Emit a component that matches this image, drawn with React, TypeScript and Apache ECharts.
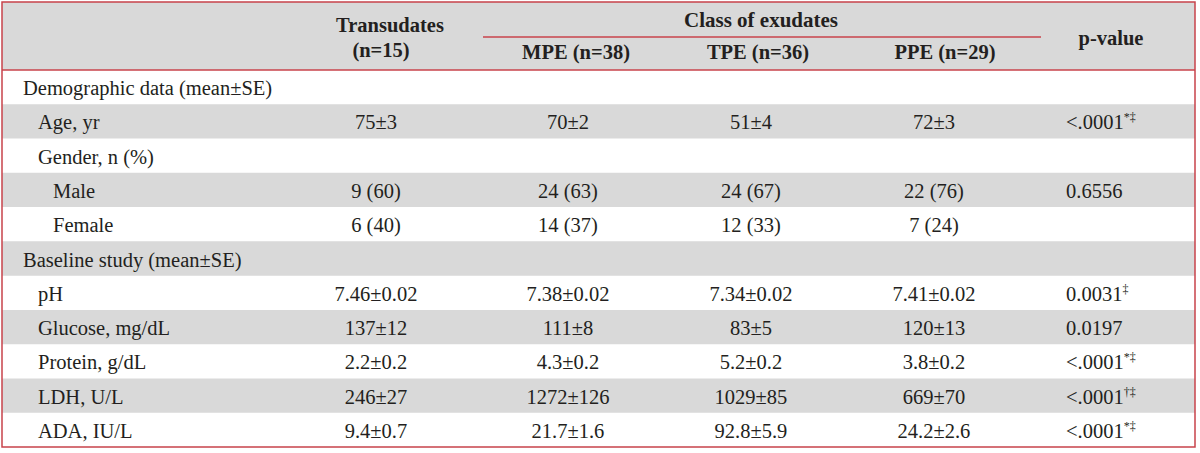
import React, { useEffect, useRef } from "react";
import * as echarts from "echarts";

const rowLabels = [
  "Demographic data (mean±SE)",
  "Age, yr",
  "Gender, n (%)",
  "Male",
  "Female",
  "Baseline study (mean±SE)",
  "pH",
  "Glucose, mg/dL",
  "Protein, g/dL",
  "LDH, U/L",
  "ADA, IU/L",
];
const rowIndent = [0, 1, 1, 2, 2, 0, 1, 1, 1, 1, 1];

const groupHeader = "Class of exudates";
const transHeader = ["Transudates", "(n=15)"];
const exudateHeaders = ["MPE (n=38)", "TPE (n=36)", "PPE (n=29)"];
const pHeader = "p-value";

const transudates = ["", "75±3", "", "9 (60)", "6 (40)", "", "7.46±0.02", "137±12", "2.2±0.2", "246±27", "9.4±0.7"];
const mpe = ["", "70±2", "", "24 (63)", "14 (37)", "", "7.38±0.02", "111±8", "4.3±0.2", "1272±126", "21.7±1.6"];
const tpe = ["", "51±4", "", "24 (67)", "12 (33)", "", "7.34±0.02", "83±5", "5.2±0.2", "1029±85", "92.8±5.9"];
const ppe = ["", "72±3", "", "22 (76)", "7 (24)", "", "7.41±0.02", "120±13", "3.8±0.2", "669±70", "24.2±2.6"];
const pValues = ["", "<.0001", "", "0.6556", "", "", "0.0031", "0.0197", "<.0001", "<.0001", "<.0001"];
const pMarks = ["", "*‡", "", "", "", "", "‡", "", "*‡", "†‡", "*‡"];

const FONT = "'Liberation Serif', 'DejaVu Serif', serif";
const TEXT = "#231f20";
const GRAY = "#d9d9d9";
const RED = "#c8434b";

export default function App() {
  const ref = useRef<HTMLDivElement>(null);
  useEffect(() => {
    document.body.style.margin = "0";
    if (!ref.current) return;
    const chart = echarts.init(ref.current, null, { renderer: "svg" });

    const L = 2, R = 1195, T = 2, B = 447;
    const headBottom = 70;
    const rowH = (B - headBottom) / rowLabels.length;
    const colX = [376, 568, 751, 934];
    const headX = [576, 758, 945];
    const pX = 1066;
    const indentX = [23, 38, 53];
    const fs = 20.5;
    const hfs = 20.5;

    const els: any[] = [];
    els.push({ type: "rect", shape: { x: L, y: T, width: R - L, height: headBottom - T }, style: { fill: GRAY } });
    rowLabels.forEach((_, i) => {
      if (i % 2 === 1) {
        els.push({ type: "rect", shape: { x: L, y: headBottom + i * rowH, width: R - L, height: rowH }, style: { fill: GRAY } });
      }
    });

    const txt = (text: string, x: number, y: number, align: string, bold = false, size = fs) => ({
      type: "text",
      style: {
        text, x, y, align, verticalAlign: "middle",
        fill: TEXT, fontSize: size, fontFamily: FONT, fontWeight: bold ? "bold" : "normal",
      },
    });

    els.push(txt(transHeader[0], 390, 25, "center", true, hfs));
    els.push(txt(transHeader[1], 381, 50, "center", true, hfs));
    els.push(txt(groupHeader, 761, 20, "center", true, 21));
    exudateHeaders.forEach((h, j) => els.push(txt(h, headX[j], 52, "center", true, hfs)));
    els.push(txt(pHeader, 1111, 38, "center", true, hfs));
    els.push({ type: "line", shape: { x1: 483, y1: 37, x2: 1041, y2: 37 }, style: { stroke: RED, lineWidth: 1.5 } });

    const cols = [transudates, mpe, tpe, ppe];
    rowLabels.forEach((lab, i) => {
      const cy = headBottom + i * rowH + rowH / 2 + 1;
      els.push(txt(lab, indentX[rowIndent[i]], cy, "left"));
      cols.forEach((c, j) => {
        if (c[i]) els.push(txt(c[i], colX[j], cy, "center"));
      });
      if (pValues[i]) {
        const rich = pMarks[i] ? `{v|${pValues[i]}}{s|${pMarks[i]}}` : `{v|${pValues[i]}}`;
        els.push({
          type: "text",
          style: {
            text: rich, x: pX, y: cy, align: "left", verticalAlign: "middle",
            fill: TEXT, fontFamily: FONT, fontSize: fs,
            rich: {
              v: { fontSize: fs, fontFamily: FONT, fill: TEXT, lineHeight: 22 },
              s: { fontSize: 12, fontFamily: FONT, fill: TEXT, verticalAlign: "top", lineHeight: 22 },
            },
          },
        });
      }
    });

    els.push({ type: "line", shape: { x1: L, y1: headBottom, x2: R, y2: headBottom }, style: { stroke: RED, lineWidth: 1.5 } });
    els.push({ type: "rect", shape: { x: L, y: T, width: R - L, height: B - T }, style: { fill: "none", stroke: RED, lineWidth: 1.5 } });

    chart.setOption({ animation: false, graphic: { elements: els } });
    return () => chart.dispose();
  }, []);
  return <div ref={ref} style={{ width: 1200, height: 453 }} />;
}
